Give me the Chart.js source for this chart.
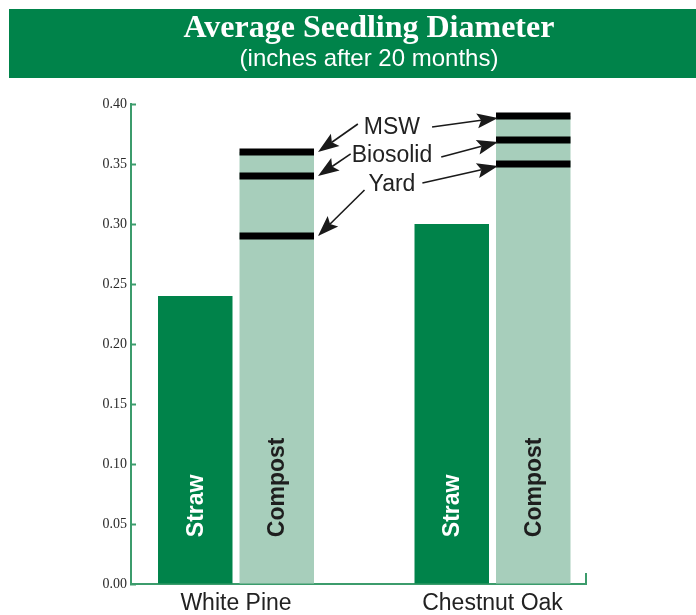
<!DOCTYPE html>
<html><head><meta charset="utf-8">
<script src="https://cdn.jsdelivr.net/npm/chart.js@4.4.1/dist/chart.umd.min.js"></script>
<style>html,body{margin:0;padding:0;background:#fff}canvas{display:block}</style>
</head><body>
<canvas id="c" width="696" height="615"></canvas>
<script>
// ---- data ----
const categories = ['White Pine', 'Chestnut Oak'];
const straw = [0.24, 0.30];
const compostMSW = [0.36, 0.39];
const compostBiosolid = [0.34, 0.37];
const compostYard = [0.29, 0.35];
const yTickLabels = ['0.00', '0.05', '0.10', '0.15', '0.20', '0.25', '0.30', '0.35', '0.40'];
const markerNames = ['MSW', 'Biosolid', 'Yard'];
const barLabels = ['Straw', 'Compost'];
const titleText = 'Average Seedling Diameter';
const subtitleText = '(inches after 20 months)';

// ---- style / layout constants ----
const C = {
  banner: '#00834a', dark: '#00834a', light: '#a7cebb', axis: '#3c9c6c',
  marker: '#000000', text: '#222222', arrow: '#1a1a1a'
};
const MARK_HALF = 0.0029;          // half-thickness of compost result lines (value units)
const LAYOUT = {
  labelX: 0.608,                    // annotation text center (x units)
  labelBaselines: [0.375, 0.3517, 0.3275],
  tailLeft: [[-6, -10], [-1, -8], [-4, -1]],
  tailRight: [[12, -7], [9, -5], [7, -8]],
  tipGapLeft: 4, tipDyLeft: 0, tipGapRight: 2, tipDyRight: 2,
  barLabelValue: 0.039
};
const SANS = '"Liberation Sans", Arial, Helvetica, sans-serif';
const SERIF = '"Liberation Serif", "Times New Roman", serif';

const compost = compostMSW.map((v, i) => Math.max(v, compostBiosolid[i], compostYard[i]));
const pts = arr => arr.map((v, i) => ({x: i, y: v}));
const marks = arr => arr.map((v, i) => ({x: i, y: [v - MARK_HALF, v + MARK_HALF]}));

function arrow(ctx, x1, y1, x2, y2) {
  const a = Math.atan2(y2 - y1, x2 - x1);
  const L = 21, H = 7.5, N = 4;
  const bx = x2 - L * Math.cos(a), by = y2 - L * Math.sin(a);
  ctx.strokeStyle = C.arrow; ctx.lineWidth = 1.6;
  ctx.beginPath(); ctx.moveTo(x1, y1); ctx.lineTo(bx + N * Math.cos(a), by + N * Math.sin(a)); ctx.stroke();
  ctx.fillStyle = C.arrow;
  ctx.beginPath(); ctx.moveTo(x2, y2);
  ctx.lineTo(bx + H * Math.sin(a), by - H * Math.cos(a));
  ctx.lineTo(bx + N * Math.cos(a), by + N * Math.sin(a));
  ctx.lineTo(bx - H * Math.sin(a), by + H * Math.cos(a));
  ctx.closePath(); ctx.fill();
}

const bannerPlugin = {
  id: 'banner',
  beforeDraw(chart) {
    const {ctx, width} = chart;
    ctx.save();
    ctx.fillStyle = C.banner;
    ctx.fillRect(9, 9, width - 9, 69);
    ctx.restore();
  }
};

const annotationPlugin = {
  id: 'annot',
  afterDatasetsDraw(chart) {
    const {ctx} = chart;
    const xs = chart.scales.x, ys = chart.scales.y;
    const strawMeta = chart.getDatasetMeta(0);
    const compostMeta = chart.getDatasetMeta(4);
    ctx.save();
    ctx.font = 'bold 23px ' + SANS;
    ctx.textAlign = 'left'; ctx.textBaseline = 'middle';
    [[strawMeta, '#ffffff', barLabels[0]], [compostMeta, '#1e1e1e', barLabels[1]]].forEach(([meta, color, text]) => {
      meta.data.forEach(el => {
        ctx.save();
        ctx.translate(el.x + 1, ys.getPixelForValue(LAYOUT.barLabelValue));
        ctx.rotate(-Math.PI / 2);
        ctx.fillStyle = color;
        ctx.fillText(text, 0, 0);
        ctx.restore();
      });
    });
    ctx.font = '23px ' + SANS;
    ctx.textAlign = 'center'; ctx.textBaseline = 'alphabetic';
    const sets = [compostMSW, compostBiosolid, compostYard];
    const cx = xs.getPixelForValue(LAYOUT.labelX);
    const elL = compostMeta.data[0], elR = compostMeta.data[1];
    markerNames.forEach((name, k) => {
      const by = ys.getPixelForValue(LAYOUT.labelBaselines[k]);
      const w = ctx.measureText(name).width;
      ctx.fillStyle = C.text;
      ctx.fillText(name, cx, by);
      const tl = LAYOUT.tailLeft[k], tr = LAYOUT.tailRight[k];
      arrow(ctx, cx - w / 2 + tl[0], by + tl[1],
        elL.x + elL.width / 2 + LAYOUT.tipGapLeft, ys.getPixelForValue(sets[k][0]) + LAYOUT.tipDyLeft);
      arrow(ctx, cx + w / 2 + tr[0], by + tr[1],
        elR.x - elR.width / 2 + LAYOUT.tipGapRight, ys.getPixelForValue(sets[k][1]) + LAYOUT.tipDyRight);
    });
    ctx.restore();
  },
  afterDraw(chart) {
    const {ctx, chartArea} = chart;
    ctx.save();
    ctx.strokeStyle = C.axis; ctx.lineWidth = 2;
    ctx.beginPath();
    ctx.moveTo(chartArea.right, chartArea.bottom + 1);
    ctx.lineTo(chartArea.right, chartArea.bottom - 11);
    ctx.stroke();
    ctx.restore();
  }
};

new Chart(document.getElementById('c'), {
  type: 'bar',
  data: {
    datasets: [
      {label: 'Straw', data: pts(straw), backgroundColor: C.dark, stack: 'straw'},
      {label: 'MSW', data: marks(compostMSW), backgroundColor: C.marker, stack: 'compost'},
      {label: 'Biosolid', data: marks(compostBiosolid), backgroundColor: C.marker, stack: 'compost'},
      {label: 'Yard', data: marks(compostYard), backgroundColor: C.marker, stack: 'compost'},
      {label: 'Compost', data: pts(compost), backgroundColor: C.light, stack: 'compost'}
    ]
  },
  options: {
    responsive: false,
    animation: false,
    layout: {padding: {top: 9, left: 42, right: 0, bottom: 0}},
    datasets: {bar: {categoryPercentage: 0.6355, barPercentage: 0.914, borderWidth: 0}},
    plugins: {
      legend: {display: false},
      tooltip: {enabled: false},
      title: {display: true, text: titleText, color: '#ffffff',
        font: {family: SERIF, size: 32, weight: 'bold', lineHeight: 1}, padding: {top: 3.5, bottom: 0}},
      subtitle: {display: true, text: subtitleText, color: '#ffffff',
        font: {family: SANS, size: 24, lineHeight: 1}, padding: {top: 2.7, bottom: 32.8}}
    },
    scales: {
      x: {
        type: 'linear', min: -0.4094, max: 1.3645, z: 1, offset: false, bounds: 'data',
        afterBuildTicks: s => { s.ticks = categories.map((_, i) => ({value: i})); },
        afterFit: s => { s.height = 31; },
        grid: {display: false, drawTicks: false, offset: false},
        border: {display: true, color: C.axis, width: 2},
        ticks: {autoSkip: false, maxRotation: 0, padding: 6, color: C.text,
          font: {family: SANS, size: 23}, callback: v => categories[v] ?? ''}
      },
      y: {
        min: 0, max: 0.4, stacked: false,
        afterFit: s => { s.width = 89; },
        grid: {display: true, drawOnChartArea: false, drawTicks: true, tickLength: -5, tickColor: C.axis, tickWidth: 2},
        border: {display: true, color: C.axis, width: 2},
        ticks: {stepSize: 0.05, padding: 9, color: '#2a2a2a',
          font: {family: SERIF, size: 14}, callback: (v, i) => yTickLabels[i]}
      },
      yR: {
        position: 'right', display: true,
        grid: {display: false, drawTicks: false}, border: {display: false}, ticks: {display: false},
        afterFit: s => { s.width = 110; }
      }
    }
  },
  plugins: [bannerPlugin, annotationPlugin]
});
</script>
</body></html>
